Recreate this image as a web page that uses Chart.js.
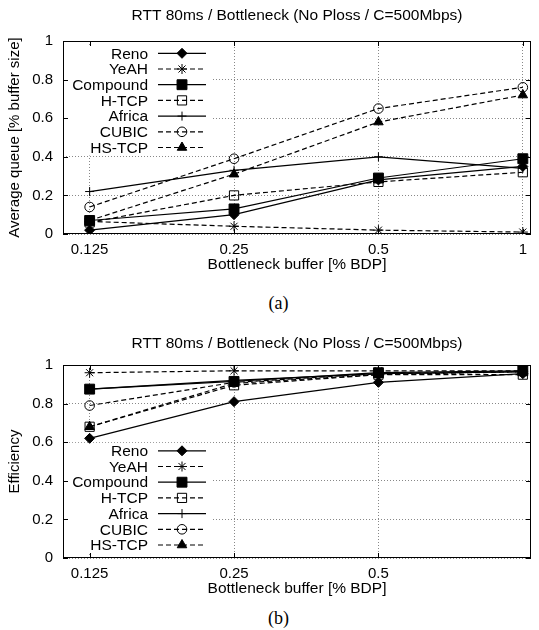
<!DOCTYPE html>
<html>
<head>
<meta charset="utf-8">
<script src="https://cdn.jsdelivr.net/npm/chart.js@4.4.1/dist/chart.umd.min.js"></script>
<style>
    body { margin: 0; background: #fff; }
    #wrap { position: relative; width: 539px; height: 630px; overflow: hidden; }
    .box { position: absolute; left: 0; width: 539px; height: 280px; }
    .caption {
        position: absolute; left: 0; width: 557px; text-align: center;
        font-family: "Liberation Serif", "Times New Roman", serif;
        font-size: 18px; line-height: 20px; color: #000;
    }
</style>
</head>
<body>
<div id="wrap">
    <div class="box" style="top:0px"><canvas id="queueChart"></canvas></div>
    <div class="caption" style="top:293px">(a)</div>
    <div class="box" style="top:324px"><canvas id="effChart"></canvas></div>
    <div class="caption" style="top:608px">(b)</div>
</div>
<script>
// Datos
const bufferSizes = [0.125, 0.25, 0.5, 1];
const protocols = ['Reno', 'YeAH', 'Compound', 'H-TCP', 'Africa', 'CUBIC', 'HS-TCP'];

// (a) cola media [% tamaño de buffer]
const queueReno     = [0.02, 0.10, 0.28, 0.35];
const queueYeAH     = [0.065, 0.04, 0.02, 0.01];
const queueCompound = [0.07, 0.13, 0.29, 0.39];
const queueHTCP     = [0.06, 0.20, 0.27, 0.32];
const queueAfrica   = [0.22, 0.33, 0.40, 0.34];
const queueCUBIC    = [0.14, 0.39, 0.65, 0.76];
const queueHSTCP    = [0.07, 0.31, 0.58, 0.72];

// (b) eficiencia
const effReno     = [0.62, 0.81, 0.91, 0.955];
const effYeAH     = [0.96, 0.97, 0.97, 0.97];
const effCompound = [0.875, 0.915, 0.96, 0.97];
const effHTCP     = [0.68, 0.895, 0.95, 0.95];
const effAfrica   = [0.875, 0.92, 0.955, 0.965];
const effCUBIC    = [0.79, 0.91, 0.955, 0.965];
const effHSTCP    = [0.68, 0.905, 0.95, 0.965];

const queueTicksX = [0.125, 0.25, 0.5, 1];
const effTicksX = [0.125, 0.25, 0.5];
const yTicks = [0, 0.2, 0.4, 0.6, 0.8, 1];

const chartTitle = 'RTT 80ms / Bottleneck (No Ploss / C=500Mbps)';

// Estilo gnuplot de cada serie
const seriesStyle = {
    'Reno':     { pointStyle: 'rectRot',  radius: 5,   filled: true,  dashed: false },
    'YeAH':     { pointStyle: 'star',     radius: 5,   filled: false, dashed: true },
    'Compound': { pointStyle: 'rect',     radius: 7,   filled: true,  dashed: false },
    'H-TCP':    { pointStyle: 'rect',     radius: 6.5, filled: false, dashed: true },
    'Africa':   { pointStyle: 'cross',    radius: 4.5, filled: false, dashed: false },
    'CUBIC':    { pointStyle: 'circle',   radius: 4.8, filled: false, dashed: true },
    'HS-TCP':   { pointStyle: 'triangle', radius: 5.5, filled: true,  dashed: true }
};

const FONT = '"Liberation Sans", Arial, sans-serif';
const DASH = [5, 3];

// Leyenda y marco al estilo gnuplot
const gnuplotPlugin = {
    id: 'gnuplotKey',
    beforeDatasetsDraw(chart, args, opts) {
        const ctx = chart.ctx;
        const area = chart.chartArea;
        const rows = keyRows(chart, opts);
        ctx.save();
        ctx.fillStyle = '#fff';
        ctx.fillRect(area.left + 1, rows[0] - 8, 213 - area.left - 1, rows[rows.length - 1] - rows[0] + 16);
        ctx.restore();
    },
    afterDatasetsDraw(chart, args, opts) {
        const ctx = chart.ctx;
        const area = chart.chartArea;
        const rows = keyRows(chart, opts);

        ctx.save();
        chart.data.datasets.forEach((ds, i) => {
            const st = seriesStyle[ds.label];
            const y = rows[i];
            ctx.fillStyle = '#000';
            ctx.font = '15.5px ' + FONT;
            ctx.textAlign = 'right';
            ctx.textBaseline = 'middle';
            ctx.fillText(ds.label, 148, y + 1);

            ctx.strokeStyle = '#000';
            ctx.lineWidth = 1.2;
            ctx.setLineDash(st.dashed ? DASH : []);
            ctx.beginPath();
            ctx.moveTo(158, y);
            ctx.lineTo(206, y);
            ctx.stroke();
            ctx.setLineDash([]);

            ctx.fillStyle = st.filled ? '#000' : 'rgba(0,0,0,0)';
            ctx.lineWidth = 1;
            Chart.helpers.drawPoint(ctx, {
                pointStyle: st.pointStyle, radius: st.radius, rotation: 0, borderWidth: 1
            }, 182, y);
        });

        // marco y marcas de escala hacia dentro
        ctx.strokeStyle = '#000';
        ctx.lineWidth = 1;
        ctx.setLineDash([]);
        ctx.strokeRect(area.left + 0.5, area.top + 0.5, area.right - area.left - 1, area.bottom - area.top - 1);
        ctx.beginPath();
        chart.scales.y.ticks.forEach(t => {
            const py = Math.round(chart.scales.y.getPixelForValue(t.value)) + 0.5;
            ctx.moveTo(area.left, py); ctx.lineTo(area.left + 5, py);
            ctx.moveTo(area.right, py); ctx.lineTo(area.right - 5, py);
        });
        chart.scales.x.ticks.forEach(t => {
            const px = Math.round(chart.scales.x.getPixelForValue(t.value)) + 0.5;
            ctx.moveTo(px, area.bottom); ctx.lineTo(px, area.bottom - 5);
            ctx.moveTo(px, area.top); ctx.lineTo(px, area.top + 5);
        });
        ctx.stroke();
        ctx.restore();
    }
};

function keyRows(chart, opts) {
    const area = chart.chartArea;
    const n = chart.data.datasets.length;
    const step = 15.7;
    const rows = [];
    const first = opts.anchor === 'bottom' ? area.bottom - 13 - step * (n - 1) : area.top + 12.3;
    for (let i = 0; i < n; i++) rows.push(first + i * step);
    return rows;
}

function buildDatasets(seriesList) {
    return protocols.map((name, i) => {
        const st = seriesStyle[name];
        return {
            label: name,
            data: bufferSizes.map((b, j) => ({ x: b, y: seriesList[i][j] })),
            borderColor: '#000',
            borderWidth: 1.2,
            borderDash: st.dashed ? DASH : [],
            pointStyle: st.pointStyle,
            pointRadius: st.radius,
            pointHoverRadius: st.radius,
            pointBackgroundColor: st.filled ? '#000' : 'rgba(0,0,0,0)',
            pointBorderColor: '#000',
            pointBorderWidth: 1,
            tension: 0,
            fill: false,
            order: protocols.length - i
        };
    });
}

function buildChart(canvasId, seriesList, xTicks, yTitle, keyAnchor, titlePad) {
    const ctx = document.getElementById(canvasId).getContext('2d');
    return new Chart(ctx, {
        type: 'line',
        data: { datasets: buildDatasets(seriesList) },
        plugins: [gnuplotPlugin],
        options: {
            responsive: true,
            maintainAspectRatio: false,
            animation: false,
            layout: { padding: { left: 0, right: 1, top: 0, bottom: 6 } },
            plugins: {
                legend: { display: false },
                tooltip: { enabled: false },
                gnuplotKey: { anchor: keyAnchor },
                title: {
                    display: true,
                    text: chartTitle,
                    fullSize: false,
                    color: '#000',
                    font: { family: FONT, size: 15.5, weight: 'normal' },
                    padding: titlePad
                }
            },
            scales: {
                x: {
                    type: 'logarithmic',
                    min: 0.11,
                    max: 1.04,
                    afterBuildTicks: scale => { scale.ticks = xTicks.map(v => ({ value: v })); },
                    afterFit: scale => { scale.height = 40; },
                    ticks: {
                        autoSkip: false, maxRotation: 0, padding: 7, color: '#000',
                        font: { family: FONT, size: 15 },
                        callback: v => String(v)
                    },
                    grid: { color: '#888', lineWidth: 1, drawTicks: false },
                    border: { display: false, dash: [1, 2] },
                    title: {
                        display: true, text: 'Bottleneck buffer [% BDP]', color: '#000',
                        font: { family: FONT, size: 15.5 }, padding: { top: 0, bottom: 0 }
                    }
                },
                y: {
                    min: 0,
                    max: 1,
                    afterBuildTicks: scale => { scale.ticks = yTicks.map(v => ({ value: v })); },
                    afterFit: scale => { scale.width = 63; },
                    ticks: {
                        padding: 10, color: '#000',
                        font: { family: FONT, size: 15 },
                        callback: v => String(v)
                    },
                    grid: { color: '#888', lineWidth: 1, drawTicks: false },
                    border: { display: false, dash: [1, 2] },
                    title: {
                        display: true, text: yTitle, color: '#000',
                        font: { family: FONT, size: 15 }, padding: { top: 6, bottom: 0 }
                    }
                }
            }
        }
    });
}

buildChart('queueChart',
    [queueReno, queueYeAH, queueCompound, queueHTCP, queueAfrica, queueCUBIC, queueHSTCP],
    queueTicksX, 'Average queue [% buffer size]', 'top', { top: 6.7, bottom: 15.7 });

buildChart('effChart',
    [effReno, effYeAH, effCompound, effHTCP, effAfrica, effCUBIC, effHSTCP],
    effTicksX, 'Efficiency', 'bottom', { top: 10, bottom: 12.4 });
</script>
</body>
</html>
